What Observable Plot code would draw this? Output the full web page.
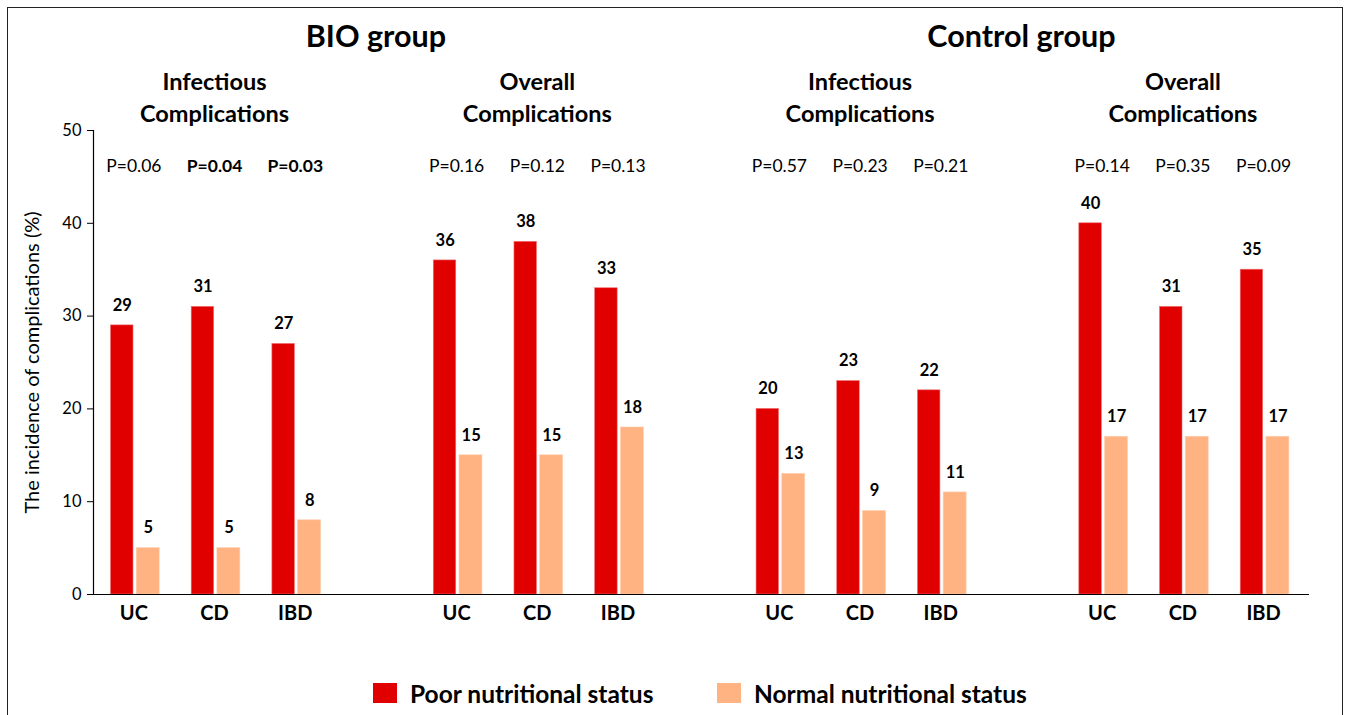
<!DOCTYPE html>
<html>
<head>
<meta charset="utf-8">
<script src="https://cdn.jsdelivr.net/npm/d3@7"></script>
<script src="https://cdn.jsdelivr.net/npm/@observablehq/plot@0.6"></script>
<style>
  html, body { margin: 0; padding: 0; background: #fff; }
  body { width: 1345px; height: 715px; position: relative; overflow: hidden; font-family: Lato, "Open Sans", sans-serif; }
  #border { position: absolute; left: 7px; top: 7px; width: 1336px; height: 730px; border: 1.5px solid #222; box-sizing: border-box; }
  #chart { position: absolute; left: 0; top: 0; }
  #legend { position: absolute; top: 680px; left: 0; width: 1345px; height: 26px; }
  .item { position: absolute; top: 0; height: 26px; display: flex; align-items: center; font-weight: bold; font-size: 24.5px; color: #000; }
  .sw { width: 24px; height: 20px; margin-right: 13px; }
</style>
</head>
<body>
<div id="border"></div>
<div id="chart"></div>
<div id="legend"></div>
<script>
const groups = ["BIO group", "Control group"];
const panels = ["Infectious\nComplications", "Overall\nComplications"];
const diseases = ["UC", "CD", "IBD"];
const statuses = ["Poor nutritional status", "Normal nutritional status"];
const poor   = [29, 31, 27, 36, 38, 33, 20, 23, 22, 40, 31, 35];
const normal = [5, 5, 8, 15, 15, 18, 13, 9, 11, 17, 17, 17];
const pValues = ["P=0.06", "P=0.04", "P=0.03", "P=0.16", "P=0.12", "P=0.13",
                 "P=0.57", "P=0.23", "P=0.21", "P=0.14", "P=0.35", "P=0.09"];
const yTicks = [0, 10, 20, 30, 40, 50];
const colors = ["#e10000", "#ffb383"];

// build slot domain: 4 panels of 3 diseases with a gap slot between panels
const slots = [];
const panelMeta = [];
for (let g = 0; g < groups.length; g++) {
  for (let p = 0; p < panels.length; p++) {
    const idx = g * panels.length + p;
    if (idx > 0) slots.push("gap" + idx);
    diseases.forEach(d => slots.push(idx + "-" + d));
    panelMeta.push({slot: idx + "-" + diseases[1], title: panels[p]});
  }
}
const groupMeta = groups.map((name, g) => ({slot: "gap" + (g * panels.length + 1), title: name}));

const rows = [];
panelMeta.forEach((pm, idx) => {
  diseases.forEach((d, j) => {
    const k = idx * diseases.length + j;
    rows.push({slot: idx + "-" + d, disease: d, poor: poor[k], normal: normal[k], p: pValues[k],
               sig: parseFloat(pValues[k].split("=")[1]) < 0.05});
  });
});

const chart = Plot.plot({
  width: 1345,
  height: 645,
  marginLeft: 93,
  marginRight: 41.6,
  marginTop: 130,
  marginBottom: 51,
  style: {fontFamily: "Lato, 'Open Sans', sans-serif", color: "#000", background: "transparent"},
  x: {type: "band", domain: slots, padding: 0, round: false},
  y: {domain: [0, 50]},
  marks: [
    Plot.barY(rows, {x: "slot", y: "poor", fill: colors[0], stroke: "#f07070", strokeWidth: 0.6, insetLeft: 17.5, insetRight: 40.7}),
    Plot.barY(rows, {x: "slot", y: "normal", fill: colors[1], stroke: "#ffd0b0", strokeWidth: 0.6, insetLeft: 43.2, insetRight: 14.5}),
    Plot.text(rows, {x: "slot", y: "poor", text: d => String(d.poor), dx: -11.5, dy: -20, fontWeight: "bold", fontSize: 16.5}),
    Plot.text(rows, {x: "slot", y: "normal", text: d => String(d.normal), dx: 14.5, dy: -20, fontWeight: "bold", fontSize: 16.5}),
    Plot.text(rows.filter(d => !d.sig), {x: "slot", frameAnchor: "top", lineAnchor: "middle", dy: 36, text: "p", fontSize: 17.5}),
    Plot.text(rows.filter(d => d.sig), {x: "slot", frameAnchor: "top", lineAnchor: "middle", dy: 36, text: "p", fontSize: 17.5, fontWeight: "bold"}),
    Plot.text(panelMeta, {x: "slot", frameAnchor: "top", lineAnchor: "middle", dy: -34.5, text: "title", fontSize: 23.5, fontWeight: "bold", lineHeight: 1.33}),
    Plot.text(groupMeta, {x: "slot", frameAnchor: "top", lineAnchor: "middle", dy: -93, text: "title", fontSize: 30.5, fontWeight: "bold"}),
    Plot.axisY({ticks: yTicks, tickSize: 6, tickPadding: 6, fontSize: 16.5, label: null}),
    Plot.text(["The incidence of complications (%)"], {frameAnchor: "left", textAnchor: "middle", lineAnchor: "middle", dx: -61, rotate: -90, fontSize: 20}),
    Plot.axisX({tickSize: 0, tickPadding: 11, fontSize: 20, fontWeight: "bold",
                tickFormat: s => s.startsWith("gap") ? "" : s.split("-")[1], label: null}),
    Plot.frame({anchor: "left", stroke: "#000", strokeWidth: 1.2}),
    Plot.ruleY([0], {stroke: "#000", strokeWidth: 1.2, insetRight: -5.6})
  ]
});
document.getElementById("chart").appendChild(chart);

// legend
const legend = document.getElementById("legend");
const legendLeft = [373, 717];
statuses.forEach((s, i) => {
  const item = document.createElement("div");
  item.className = "item";
  item.style.left = legendLeft[i] + "px";
  item.innerHTML = `<div class="sw" style="background:${colors[i]}"></div><span>${s}</span>`;
  legend.appendChild(item);
});
</script>
</body>
</html>
